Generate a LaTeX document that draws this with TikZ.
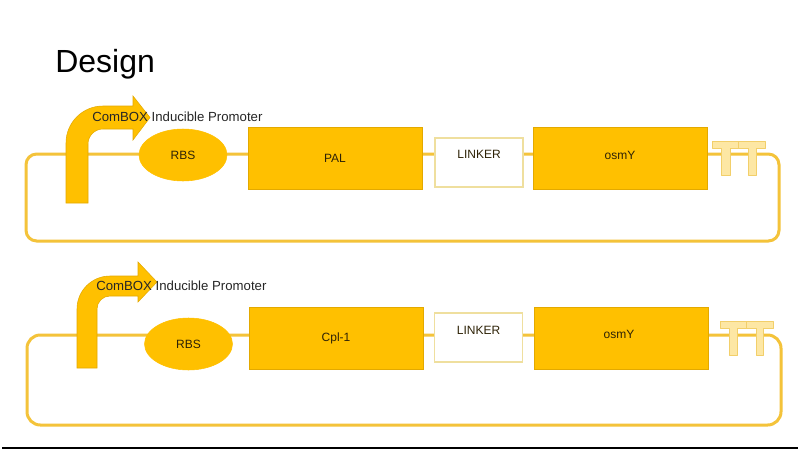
\documentclass[tikz,border=0pt]{standalone}
\usepackage{fontspec}
\setmainfont{Liberation Sans}
\usetikzlibrary{shapes.geometric}
\definecolor{gold}{HTML}{FFC000}
\definecolor{goldline}{HTML}{E3A900}
\definecolor{loopcol}{HTML}{F4C33A}
\definecolor{paleedge}{HTML}{EFDF9E}
\definecolor{palefill}{HTML}{FDE7A4}
\definecolor{termedge}{HTML}{F2CF6A}
\definecolor{labcol}{HTML}{2E2206}
\tikzset{
  backbone/.style={draw=loopcol, line width=2.25pt, rounded corners=8pt},
  partbox/.style={rectangle, draw=goldline, line width=0.5pt, fill=gold, inner sep=0pt, outer sep=0pt,
    minimum width=130.5pt, minimum height=46.5pt, font=\fontsize{9}{10}\selectfont, text=labcol},
  rbs/.style={ellipse, fill=gold, draw=gold, inner sep=0pt, minimum width=66pt, minimum height=39pt,
    font=\fontsize{9}{10}\selectfont, text=labcol},
  linkerbox/.style={rectangle, draw=paleedge, line width=0.9pt, fill=white, inner sep=0pt,
    minimum width=66pt, minimum height=36.75pt},
  lab/.style={font=\fontsize{9}{10}\selectfont, text=labcol, inner sep=0pt},
  promo/.style={fill=gold, draw=goldline, line width=0.4pt},
  promolab/.style={font=\fontsize{9.9}{11}\selectfont, text=black!85, inner sep=0pt},
  term/.style={fill=palefill, draw=termedge, line width=0.6pt, line join=round},
}
\begin{document}
\begin{tikzpicture}[x=0.75pt, y=-0.75pt]
\useasboundingbox (0,0) rectangle (800,450);
\fill[white] (0,0) rectangle (800,450);

\node[anchor=base west, inner sep=0pt, font=\fontsize{24}{28}\selectfont] (title) at (55,72) {Design};

% ---------- construct 1 ----------
\draw[backbone] (26,154) rectangle (779,241);
\draw[promo] (66,203) -- (66,143) arc[start angle=180, end angle=270, radius=37] -- (133,106)
  -- (133,96) -- (150,117.5) -- (133,140) -- (133,129) -- (103,129)
  arc[start angle=270, end angle=180, radius=15] -- (88,203) -- cycle;
\node[promolab, anchor=west] (p1) at (92,117) {ComBOX Inducible Promoter};
\node[rbs] (rbs1) at (183,155) {RBS};
\node[partbox] (pal) at (335,158) {PAL};
\node[linkerbox] (lk1) at (479,162.5) {};
\node[lab] (lk1t) at (479,154) {LINKER};
\node[partbox] (osm1) at (620,158) {};
\node[lab] (osm1t) at (620,155) {osmY};
\draw[term] (712,141) -- (738,141) -- (738,148) -- (730,148) -- (730,175) -- (721,175) -- (721,148) -- (712,148) -- cycle;
\draw[term] (738,141) -- (765,141) -- (765,148) -- (756,148) -- (756,175) -- (748,175) -- (748,148) -- (738,148) -- cycle;

% ---------- construct 2 ----------
\draw[backbone, rounded corners=10pt] (27,335) rectangle (781,425);
\draw[promo] (77,368) -- (77,309) arc[start angle=180, end angle=270, radius=33] -- (138,276)
  -- (138,262) -- (157,282) -- (138,302) -- (138,296) -- (110,296)
  arc[start angle=270, end angle=180, radius=13] -- (97,368) -- cycle;
\node[promolab, anchor=west] (p2) at (96,286) {ComBOX Inducible Promoter};
\node[rbs] (rbs2) at (188.5,344) {RBS};
\node[partbox] (cpl) at (336,338) {Cpl-1};
\node[linkerbox] (lk2) at (478.5,337.5) {};
\node[lab] (lk2t) at (478.5,330) {LINKER};
\node[partbox] (osm2) at (621,338) {};
\node[lab] (osm2t) at (619,334) {osmY};
\draw[term] (720,321) -- (746,321) -- (746,328) -- (737,328) -- (737,355) -- (729,355) -- (729,328) -- (720,328) -- cycle;
\draw[term] (746,321) -- (773,321) -- (773,328) -- (763,328) -- (763,355) -- (756,355) -- (756,328) -- (746,328) -- cycle;

\draw[line width=1.1pt] (2,448) -- (798,448);
\end{tikzpicture}
\end{document}
